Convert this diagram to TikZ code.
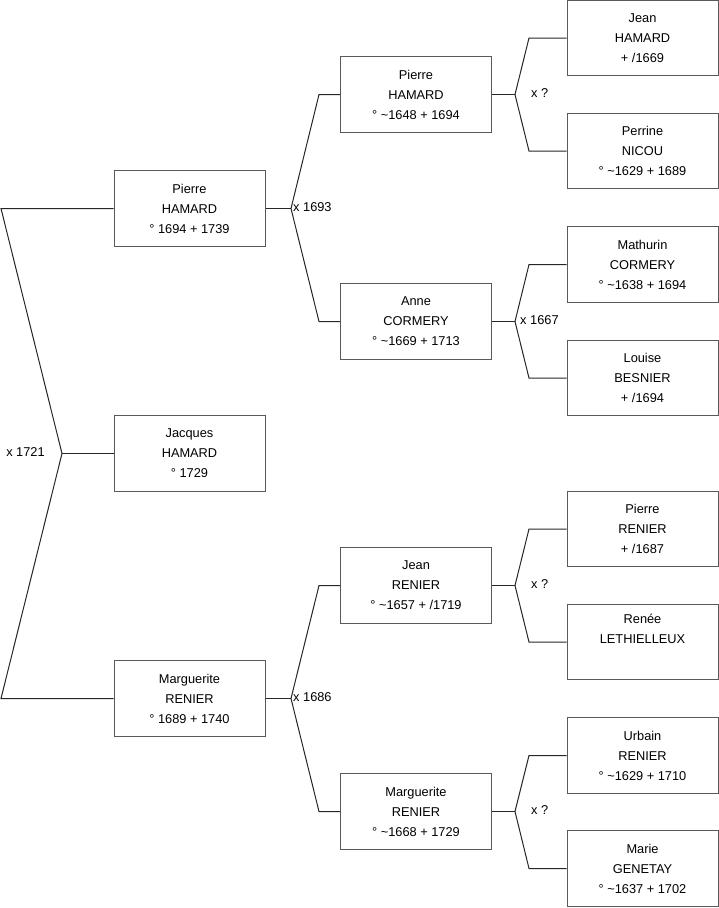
\documentclass[tikz,border=0pt]{standalone}
\usepackage{fontspec}
\setmainfont{Liberation Sans}
\begin{document}
\begin{tikzpicture}[x=1pt,y=-1pt,
  person/.style={draw=black!65,line width=1pt,minimum width=151pt,minimum height=75.5pt,align=center,inner sep=0pt,font=\fontsize{12.8}{20}\selectfont,fill=white},
  link/.style={draw=black!85,line width=1pt},
  lbl/.style={font=\fontsize{12.8}{14}\selectfont,inner sep=0pt}]
\useasboundingbox (0,0) rectangle (719,908);
% column 1
\node[person] (p1) at (189.5,208.5) {Pierre\\HAMARD\\° 1694 + 1739};
\node[person] (j1) at (189.5,453.5) {Jacques\\HAMARD\\° 1729};
\node[person] (m1) at (189.5,698.5) {Marguerite\\RENIER\\° 1689 + 1740};
% column 2
\node[person] (p2) at (416,94.5) {Pierre\\HAMARD\\° \textasciitilde1648 + 1694};
\node[person] (a2) at (416,321.5) {Anne\\CORMERY\\° \textasciitilde1669 + 1713};
\node[person] (j2) at (416,585.5) {Jean\\RENIER\\° \textasciitilde1657 + /1719};
\node[person] (m2) at (416,811.5) {Marguerite\\RENIER\\° \textasciitilde1668 + 1729};
% column 3
\node[person] (p3) at (642.5,38) {Jean\\HAMARD\\+ /1669};
\node[person] (n3) at (642.5,151) {Perrine\\NICOU\\° \textasciitilde1629 + 1689};
\node[person] (c3) at (642.5,264.5) {Mathurin\\CORMERY\\° \textasciitilde1638 + 1694};
\node[person] (b3) at (642.5,378) {Louise\\BESNIER\\+ /1694};
\node[person] (r3) at (642.5,529) {Pierre\\RENIER\\+ /1687};
\node[person] (l3) at (642.5,642) {Renée\\LETHIELLEUX\\\strut};
\node[person] (u3) at (642.5,755.5) {Urbain\\RENIER\\° \textasciitilde1629 + 1710};
\node[person] (g3) at (642.5,868.5) {Marie\\GENETAY\\° \textasciitilde1637 + 1702};
% junction coordinates
\coordinate (A1) at (1,208.5);
\coordinate (A2) at (62,453.5);
\coordinate (A3) at (1,698.5);
\coordinate (B1) at (291,208.5);
\coordinate (B2) at (291,698.5);
\coordinate (C1) at (515,94.5);
\coordinate (C2) at (515,321.5);
\coordinate (C3) at (515,585.5);
\coordinate (C4) at (515,811.5);
% connectors
\draw[link] (p1.west) -- (A1) -- (A2) -- (A3) -- (m1.west);
\draw[link] (A2) -- (j1.west);
\node[lbl] (x1721) at (25.5,452) {x 1721};
\draw[link] (p1.east) -- (B1);
\draw[link] (B1) -- (319,94.5) -- (p2.west);
\draw[link] (B1) -- (319,321.5) -- (a2.west);
\node[lbl,anchor=west] (x1693) at (293,207.5) {x 1693};
\draw[link] (m1.east) -- (B2);
\draw[link] (B2) -- (319,585.5) -- (j2.west);
\draw[link] (B2) -- (319,811.5) -- (m2.west);
\node[lbl,anchor=west] (x1686) at (293,697.5) {x 1686};
\draw[link] (p2.east) -- (C1);
\draw[link] (C1) -- (529,38) -- (p3.west);
\draw[link] (C1) -- (529,151) -- (n3.west);
\node[lbl,anchor=west] (xq1) at (531,93) {x ?};
\draw[link] (a2.east) -- (C2);
\draw[link] (C2) -- (529,264.5) -- (c3.west);
\draw[link] (C2) -- (529,378) -- (b3.west);
\node[lbl,anchor=west] (x1667) at (520,320.5) {x 1667};
\draw[link] (j2.east) -- (C3);
\draw[link] (C3) -- (529,529) -- (r3.west);
\draw[link] (C3) -- (529,642) -- (l3.west);
\node[lbl,anchor=west] (xq2) at (531,584) {x ?};
\draw[link] (m2.east) -- (C4);
\draw[link] (C4) -- (529,755.5) -- (u3.west);
\draw[link] (C4) -- (529,868.5) -- (g3.west);
\node[lbl,anchor=west] (xq3) at (531,810) {x ?};
\end{tikzpicture}
\end{document}
